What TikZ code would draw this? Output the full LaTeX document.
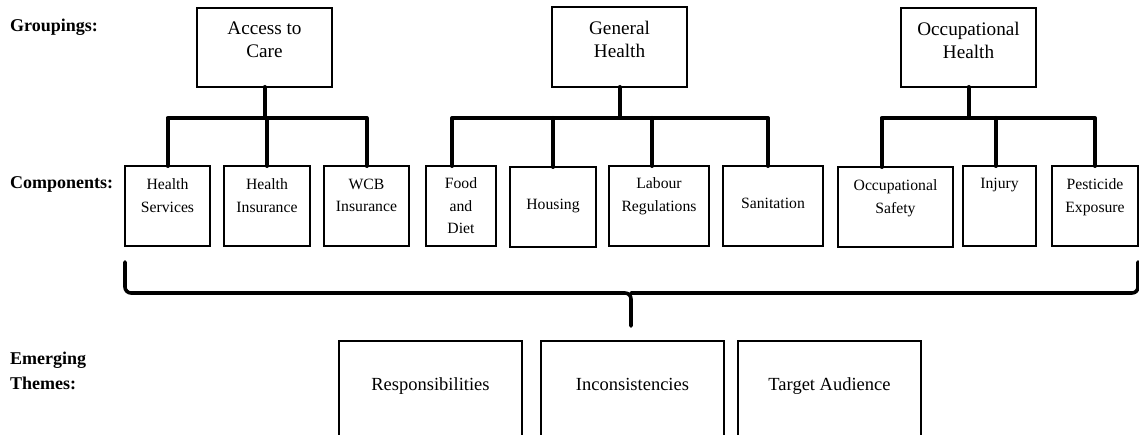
\documentclass[tikz,border=0pt]{standalone}
\usepackage{fontspec}
\setmainfont{Liberation Serif}
\begin{document}
\begin{tikzpicture}[x=1pt,y=-1pt,
  box/.style={draw, line width=1.2pt, inner sep=0pt, outer sep=0pt, anchor=north west},
  topbox/.style={box, minimum width=135pt, minimum height=79pt},
  compbox/.style={box, minimum width=#1, minimum height=80pt},
  themebox/.style={box, minimum width=183pt, minimum height=130pt},
  toptext/.style={align=center, inner sep=0pt, anchor=north, font=\fontsize{19.2}{23}\selectfont},
  comptext/.style={align=center, inner sep=0pt, anchor=north, font=\fontsize{15.7}{22.5}\selectfont},
  themetext/.style={inner sep=0pt, anchor=base, font=\fontsize{18.5}{22}\selectfont},
  rowlabel/.style={align=left, inner sep=0pt, anchor=west, font=\fontsize{18}{25}\selectfont\bfseries},
  conn/.style={line width=4pt, line cap=round, line join=round},
  bracket/.style={line width=3.6pt, line cap=round, rounded corners=6pt}
]
\useasboundingbox (0,0) rectangle (1139,435);
\clip (0,0) rectangle (1139,435);

% row labels
\node[rowlabel] (lgroup) at (10,27) {Groupings:};
\node[rowlabel] (lcomp) at (10,184) {Components:};
\node[rowlabel] (ltheme) at (10,371) {Emerging\\Themes:};

% groupings
\node[topbox] (ac) at (197,8) {};
\node[topbox, minimum height=80pt] (gh) at (552,7) {};
\node[topbox] (oh) at (901,8) {};
\node[toptext] (act) at ([yshift=-13.5pt]ac.north) {Access to\\Care};
\node[toptext] (ght) at ([yshift=-13.5pt]gh.north) {General\\Health};
\node[toptext] (oht) at ([yshift=-13.5pt]oh.north) {Occupational\\Health};

% components
\node[compbox=85pt] (hs) at (125,166) {};
\node[compbox=86pt] (hi) at (224,166) {};
\node[compbox=85pt] (wcb) at (324,166) {};
\node[compbox=70pt] (fd) at (426,166) {};
\node[compbox=86pt] (hou) at (510,167) {};
\node[compbox=100pt] (lab) at (609,166) {};
\node[compbox=100pt] (san) at (723,166) {};
\node[compbox=115pt] (occ) at (838,167) {};
\node[compbox=73pt] (inj) at (963,166) {};
\node[compbox=86pt] (pest) at (1052,166) {};

\node[comptext] (hst) at ([yshift=-12.5pt]hs.north) {Health\\Services};
\node[comptext] (hit) at ([yshift=-12.5pt]hi.north) {Health\\Insurance};
\node[comptext] (wcbt) at ([yshift=-12.5pt]wcb.north) {WCB\\Insurance};
\node[comptext] (fdt) at ([yshift=-11.5pt]fd.north) {Food\\and\\Diet};
\node[comptext, anchor=base] (hout) at (hou.north |- 0,210) {Housing};
\node[comptext] (labt) at ([yshift=-11.5pt]lab.north) {Labour\\Regulations};
\node[comptext, anchor=base] (sant) at (san.north |- 0,209) {Sanitation};
\node[comptext] (occt) at ([yshift=-12.5pt]occ.north) {Occupational\\Safety};
\node[comptext] (injt) at ([yshift=-11.5pt]inj.north) {Injury};
\node[comptext] (pestt) at ([yshift=-12.5pt]pest.north) {Pesticide\\Exposure};

% tree connectors
\coordinate (acbar) at (ac.south |- 0,118);
\coordinate (ghbar) at (gh.south |- 0,118);
\coordinate (ohbar) at (oh.south |- 0,118);

\draw[conn] (ac.south) -- (acbar);
\draw[conn] (hs.north) -- (hs.north |- acbar) -- (wcb.north |- acbar) -- (wcb.north);
\draw[conn] (hi.north) -- (hi.north |- acbar);

\draw[conn] (gh.south) -- (ghbar);
\draw[conn] ([xshift=-9pt]fd.north) -- ([xshift=-9pt]fd.north |- ghbar)
  -- ([xshift=-5pt]san.north |- ghbar) -- ([xshift=-5pt]san.north);
\draw[conn] (hou.north) -- (hou.north |- ghbar);
\draw[conn] ([xshift=-7pt]lab.north) -- ([xshift=-7pt]lab.north |- ghbar);

\draw[conn] (oh.south) -- (ohbar);
\draw[conn] ([xshift=-14pt]occ.north) -- ([xshift=-14pt]occ.north |- ohbar)
  -- (pest.north |- ohbar) -- (pest.north);
\draw[conn] ([xshift=-4pt]inj.north) -- ([xshift=-4pt]inj.north |- ohbar);

% brace gathering the components
\coordinate (brl) at (hs.south west |- 0,262);
\coordinate (brr) at (pest.south east |- 0,262);
\coordinate (brtip) at (631,326);
\draw[bracket] (brl) -- (brl |- 0,293) -- (brtip |- 0,293) -- (brtip);
\draw[bracket] (brr) -- (brr |- 0,293) -- (brtip |- 0,293);

% emerging themes
\node[themebox] (resp) at (339,341) {};
\node[themebox] (inc) at (541,341) {};
\node[themebox] (tgt) at (738,341) {};
\node[themetext] (respt) at (resp.north |- 0,390) {Responsibilities};
\node[themetext] (inct) at (inc.north |- 0,390) {Inconsistencies};
\node[themetext] (tgtt) at (tgt.north |- 0,390) {Target Audience};
\end{tikzpicture}
\end{document}
